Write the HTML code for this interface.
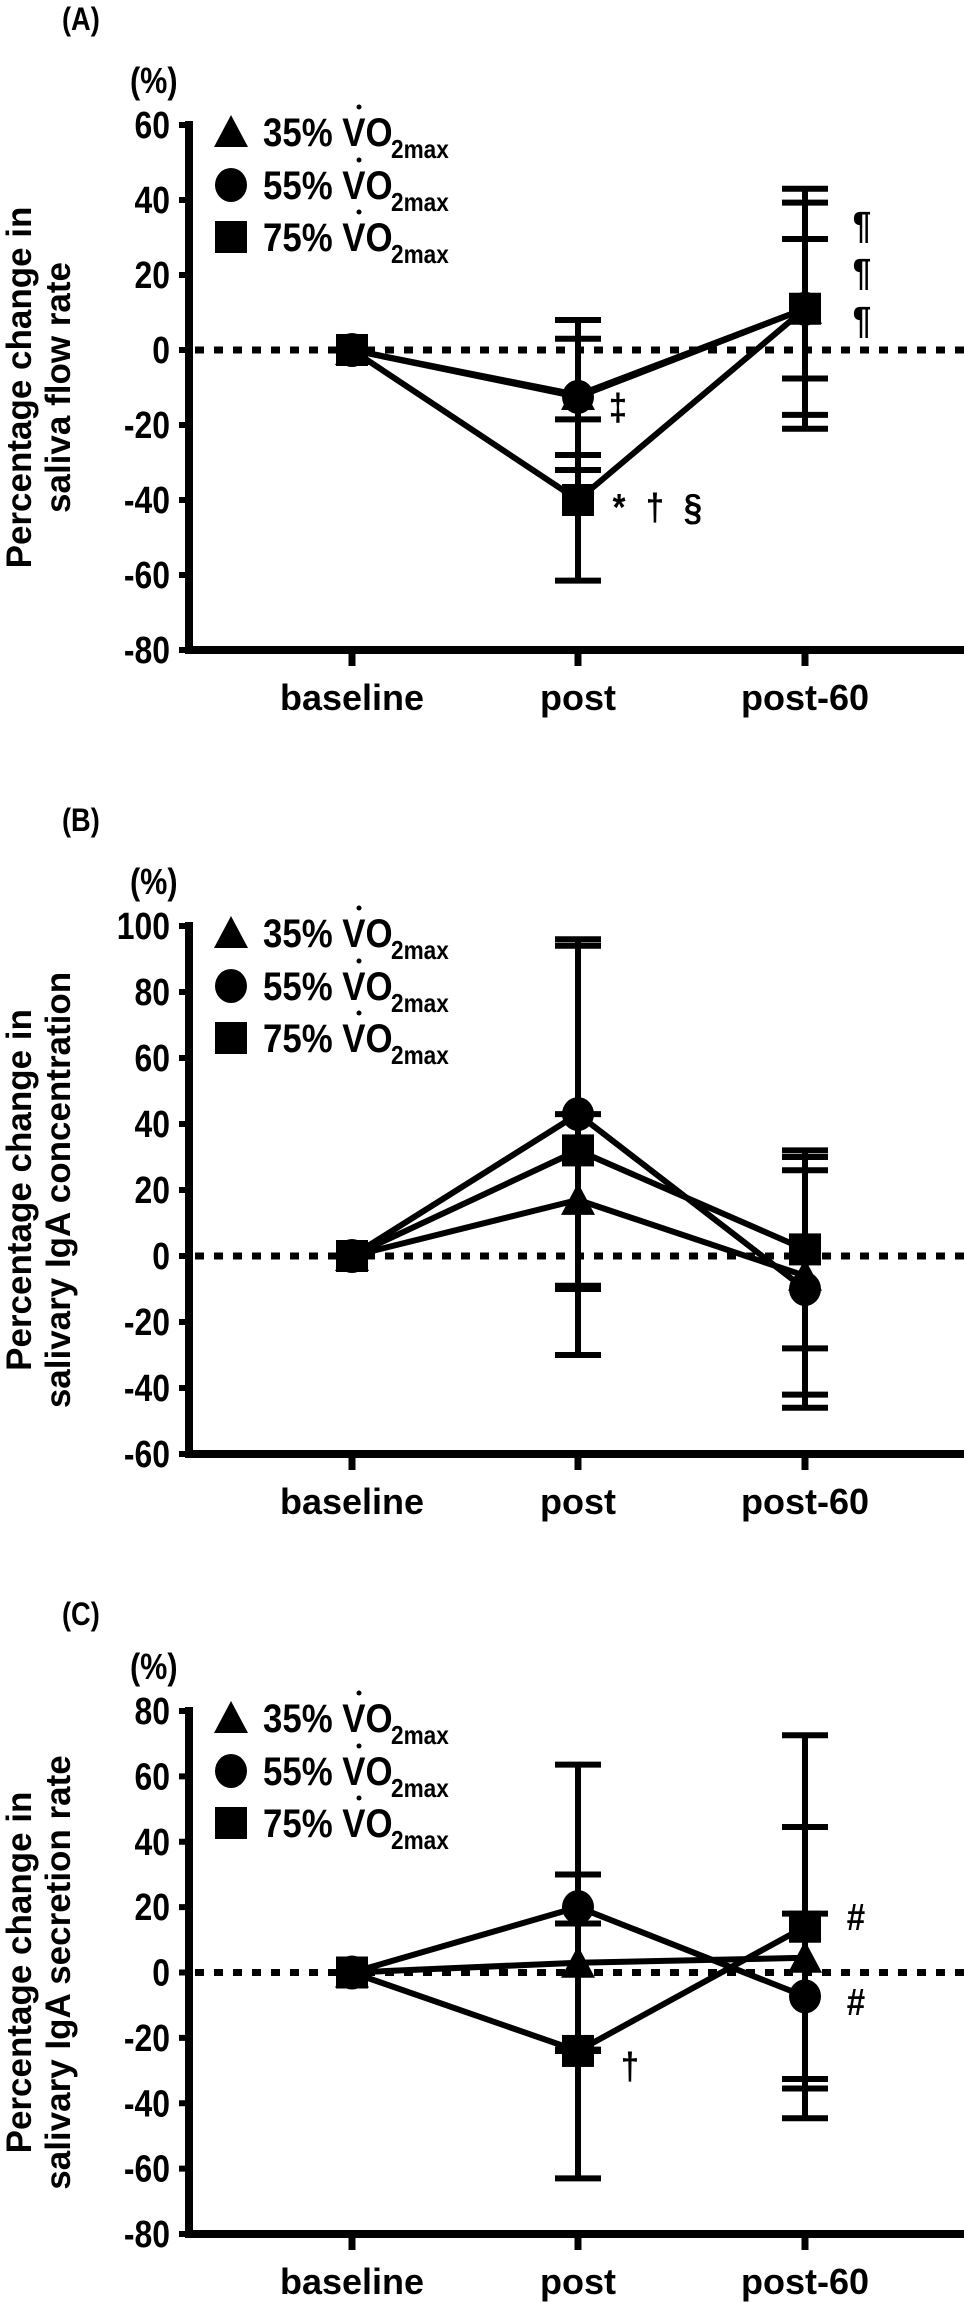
<!DOCTYPE html>
<html><head><meta charset="utf-8">
<style>
html,body{margin:0;padding:0;background:#fff;}
svg{display:block;font-family:"Liberation Sans",Arial,sans-serif;font-weight:bold;}
</style></head>
<body>
<svg id="fig" width="964" height="2303" viewBox="0 0 964 2303" xmlns="http://www.w3.org/2000/svg"></svg>
<script>
const categories = ["baseline","post","post-60"];
// Panel A: saliva flow rate
const aTri = [0,-12,11];     const aTriSd = [0,20,28.3];
const aCirc = [0,-12.5,11];  const aCircSd = [0,15.5,18.6];
const aSq = [0,-40,11];      const aSqSd = [0,21.5,32];
const aTicks = [60,40,20,0,-20,-40,-60,-80];
// Panel B: IgA concentration
const bTri = [0,17,-6];      const bTriSd = [0,26,36];
const bCirc = [0,43,-10];    const bCircSd = [0,53,36];
const bSq = [0,32,2];        const bSqSd = [0,62,30];
const bTicks = [100,80,60,40,20,0,-20,-40,-60];
// Panel C: IgA secretion rate
const cTri = [0,3,4.5];      const cTriSd = [0,27,40];
const cCirc = [0,20,-7.3];   const cCircSd = [0,43.6,25.3];
const cSq = [0,-24,14];      const cSqSd = [0,39,58.6];
const cTicks = [80,60,40,20,0,-20,-40,-60,-80];

const NS="http://www.w3.org/2000/svg";
const svg=document.getElementById('fig');
function mk(tag,attrs,parent){const e=document.createElementNS(NS,tag);for(const k in attrs)e.setAttribute(k,attrs[k]);(parent||svg).appendChild(e);return e;}
const catX=[352,578,805];
const AX=189;

function panel(cfg){
  const g=mk('g',{});
  
  
  const y=v=>cfg.top+(cfg.max-v)*(cfg.bot-cfg.top)/(cfg.max-cfg.min);
  const x=i=>catX[i];
  const pl=mk('text',{x:0,y:0,'font-size':32,transform:`translate(62,${cfg.top+cfg.letterDy}) scale(0.85,1)`},g);
  pl.textContent='('+cfg.id.toUpperCase()+')';
  
  
  const pc=mk('text',{x:0,y:0,'font-size':36,transform:`translate(130,${cfg.top-32}) scale(0.85,1)`},g);
  pc.textContent='(%)';
  
  
  const mid=(cfg.top+cfg.bot)/2;
  const t1=mk('text',{x:0,y:0,'font-size':35,'text-anchor':'middle',transform:`translate(31,${mid}) rotate(-90)`},g);
  t1.textContent='Percentage change in';
  
  
  const t2=mk('text',{x:0,y:0,'font-size':35,'text-anchor':'middle',transform:`translate(70,${mid}) rotate(-90)`},g);
  t2.textContent=cfg.title2;
  
  
  const ya=mk('line',{x1:AX,y1:cfg.top-4,x2:AX,y2:cfg.bot+4,stroke:'#000','stroke-width':8},g);
  
  
  const xa=mk('line',{x1:AX-4,y1:cfg.bot,x2:964,y2:cfg.bot,stroke:'#000','stroke-width':8},g);
  
  
  cfg.ticks.forEach(v=>{
    const tk=mk('line',{x1:AX-10,y1:y(v),x2:AX,y2:y(v),stroke:'#000','stroke-width':6},g);
    
    
    const tl=mk('text',{x:0,y:0,'font-size':38,'text-anchor':'end',transform:`translate(170,${y(v)+13}) scale(0.84,1)`},g);
    tl.textContent=String(v);
    
    
  });
  categories.forEach((c,i)=>{
    const tk=mk('line',{x1:x(i),y1:cfg.bot,x2:x(i),y2:cfg.bot+16,stroke:'#000','stroke-width':7},g);
    
    
    const tl=mk('text',{x:x(i),y:cfg.bot+60,'font-size':36,'text-anchor':'middle'},g);
    tl.textContent=c;
    
    
  });
  const zl=mk('line',{x1:AX+6,y1:y(0),x2:964,y2:y(0),stroke:'#000','stroke-width':7,'stroke-dasharray':'9 10'},g);
  
  
  const series=[
    {name:'35',vals:cfg.tri,sd:cfg.triSd,shape:'tri'},
    {name:'55',vals:cfg.circ,sd:cfg.circSd,shape:'circ'},
    {name:'75',vals:cfg.sq,sd:cfg.sqSd,shape:'sq'}];
  series.forEach(s=>{
    const pts=s.vals.map((v,i)=>x(i)+','+y(v)).join(' ');
    const pl=mk('polyline',{points:pts,fill:'none',stroke:'#000','stroke-width':6,'stroke-linejoin':'round'},g);
    
    
  });
  series.forEach(s=>{
    s.vals.forEach((v,i)=>{
      if(!s.sd[i])return;
      const hi=y(v+s.sd[i]),lo=y(v-s.sd[i]);
      const eb=mk('path',{d:`M${x(i)},${hi}V${lo}M${x(i)-23},${hi}H${x(i)+23}M${x(i)-23},${lo}H${x(i)+23}`,stroke:'#000','stroke-width':6,fill:'none'},g);
      
      
    });
  });
  function marker(shape,cx,cy,parent){
    let e;
    if(shape==='tri')e=mk('polygon',{points:`${cx-17},${cy+15} ${cx+17},${cy+15} ${cx},${cy-17}`,fill:'#000'},parent);
    else if(shape==='circ')e=mk('ellipse',{cx:cx,cy:cy,rx:16,ry:17,fill:'#000'},parent);
    else e=mk('rect',{x:cx-16,y:cy-16,width:32,height:32,fill:'#000'},parent);
    return e;
  }
  series.forEach(s=>{
    s.vals.forEach((v,i)=>{
      const m=marker(s.shape,x(i),y(v),g);
      
      
    });
  });
  const offs=[7,60,112];
  series.forEach((s,k)=>{
    const cy=cfg.top+offs[k];
    const lg=mk('g',{},g);
    
    
    marker(s.shape,231,cy,lg);
    const tx=mk('text',{x:0,y:0,'font-size':40,transform:`translate(263,${cy+14}) scale(0.87,1)`},lg);
    tx.textContent=s.name+'% VO';
    const sb=mk('text',{x:0,y:0,'font-size':26,transform:`translate(391,${cy+26}) scale(0.87,1)`},lg);
    sb.textContent='2max';
    mk('circle',{cx:359,cy:cy-25,r:2.5,fill:'#000'},lg);
  });
  cfg.notes.forEach(n=>{
    const t=mk('text',{x:0,y:0,'font-size':38,'text-anchor':'middle',transform:`translate(${n[0]},${n[1]+13}) scale(0.87,1)`},g);
    t.textContent=n[2];
    
    
  });
}

panel({id:'a',top:125,bot:650,max:60,min:-80,ticks:aTicks,letterDy:-95,title2:'saliva flow rate',
  tri:aTri,triSd:aTriSd,circ:aCirc,circSd:aCircSd,sq:aSq,sqSd:aSqSd,
  notes:[[618,407,'‡'],[619,507,'*'],[655,507,'†'],[693,507,'§'],[862,225,'¶'],[862,272,'¶'],[862,320,'¶']]});
panel({id:'b',top:926,bot:1454,max:100,min:-60,ticks:bTicks,letterDy:-95,title2:'salivary IgA concentration',
  tri:bTri,triSd:bTriSd,circ:bCirc,circSd:bCircSd,sq:bSq,sqSd:bSqSd,notes:[]});
panel({id:'c',top:1711,bot:2234,max:80,min:-80,ticks:cTicks,letterDy:-86,title2:'salivary IgA secretion rate',
  tri:cTri,triSd:cTriSd,circ:cCirc,circSd:cCircSd,sq:cSq,sqSd:cSqSd,
  notes:[[630,2066,'†'],[856,1917,'#'],[856,2002,'#']]});
</script>
</body></html>
